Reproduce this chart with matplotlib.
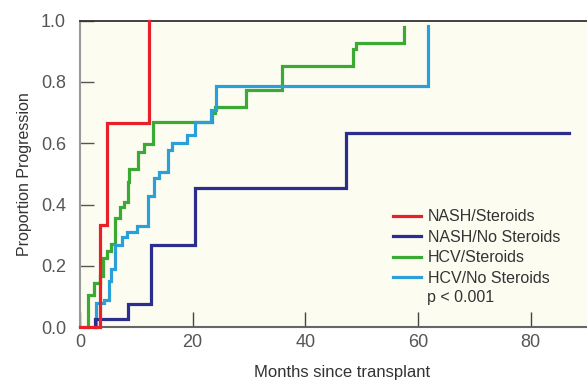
import matplotlib
matplotlib.use("Agg")
import matplotlib.pyplot as plt

# step data (months, proportion)
nash_st_t = [0, 3.6, 4.9, 12.2]
nash_st_v = [0, 0.333, 0.667, 1.0]

nash_no_t = [2.7, 2.7, 8.6, 12.7, 20.4, 47.3, 86.8]
nash_no_v = [0, 0.025, 0.076, 0.267, 0.454, 0.633, 0.633]

hcv_st_t = [1.5, 1.5, 2.45, 3.6, 4.2, 4.9, 5.5, 6.2, 7.1, 7.9, 8.6, 8.8,
            10.3, 11.4, 12.9, 23.5, 23.9, 29.4, 35.9, 48.5, 49.0, 57.6]
hcv_st_v = [0, 0.104, 0.144, 0.168, 0.226, 0.248, 0.271, 0.356, 0.392, 0.408,
            0.472, 0.516, 0.573, 0.598, 0.669, 0.698, 0.717, 0.774, 0.853,
            0.908, 0.926, 0.98]

hcv_no_t = [2.8, 2.8, 4.3, 5.1, 5.6, 6.3, 7.4, 8.4, 10.1, 12.1, 13.1, 14.1,
            15.7, 16.4, 19.0, 20.4, 23.3, 24.1, 61.7]
hcv_no_v = [0, 0.079, 0.09, 0.152, 0.188, 0.269, 0.294, 0.31, 0.331, 0.427,
            0.486, 0.505, 0.579, 0.6, 0.628, 0.669, 0.709, 0.787, 0.984]

labels = ["NASH/Steroids", "NASH/No Steroids", "HCV/Steroids", "HCV/No Steroids"]
colors = ["#e8202a", "#2b2e8c", "#3aaa35", "#2a9fd8"]

plt.rcParams['font.family'] = ['Liberation Sans', 'DejaVu Sans']

fig = plt.figure(figsize=(5.87, 3.83), dpi=100)
ax = fig.add_axes([0.136, 0.146, 0.864, 0.8])
ax.set_facecolor("#fdfcf1")

series = [(nash_st_t, nash_st_v), (nash_no_t, nash_no_v),
          (hcv_st_t, hcv_st_v), (hcv_no_t, hcv_no_v)]
zorders = [5, 4.5, 3, 4]
for (t, v), lab, c, z in zip(series, labels, colors, zorders):
    ax.step(t, v, where="post", color=c, lw=2.3, label=lab, zorder=z,
            clip_on=False, solid_joinstyle="miter")

ax.set_xlim(0, 90)
ax.set_ylim(0, 1.0)
ax.set_xticks([0, 20, 40, 60, 80])
ax.set_yticks([0, 0.2, 0.4, 0.6, 0.8, 1.0])
ax.set_yticklabels(["0.0", "0.2", "0.4", "0.6", "0.8", "1.0"])
ax.tick_params(axis="y", direction="in", length=10, width=1, color="#555555",
               labelsize=13, labelcolor="#555555", pad=10)
ax.tick_params(axis="x", direction="in", length=11, width=1, color="#444444",
               labelsize=13, labelcolor="#555555", pad=5)

ax.spines["right"].set_visible(False)
ax.spines["left"].set_color("#999999")
ax.spines["left"].set_linewidth(1.5)
ax.spines["top"].set_color("#333333")
ax.spines["top"].set_linewidth(1.3)
ax.spines["bottom"].set_color("#666666")
ax.spines["bottom"].set_linewidth(1.5)

ax.set_xlabel("Months since transplant", fontsize=12, color="#333333")
ax.xaxis.set_label_coords(0.517, -0.125)
ax.set_ylabel("Proportion Progression", fontsize=11.5, color="#333333", labelpad=6)

leg = ax.legend(loc="upper left", bbox_to_anchor=(0.617, 0.385), frameon=False,
                fontsize=11.5, handlelength=1.75, handletextpad=0.45,
                labelspacing=0.35, borderaxespad=0, borderpad=0)
for txt in leg.get_texts():
    txt.set_color("#333333")
ax.text(0.685, 0.098, "p < 0.001", transform=ax.transAxes, fontsize=11.5,
        color="#333333", va="center", ha="left")

fig.savefig("out.png", dpi=100)
